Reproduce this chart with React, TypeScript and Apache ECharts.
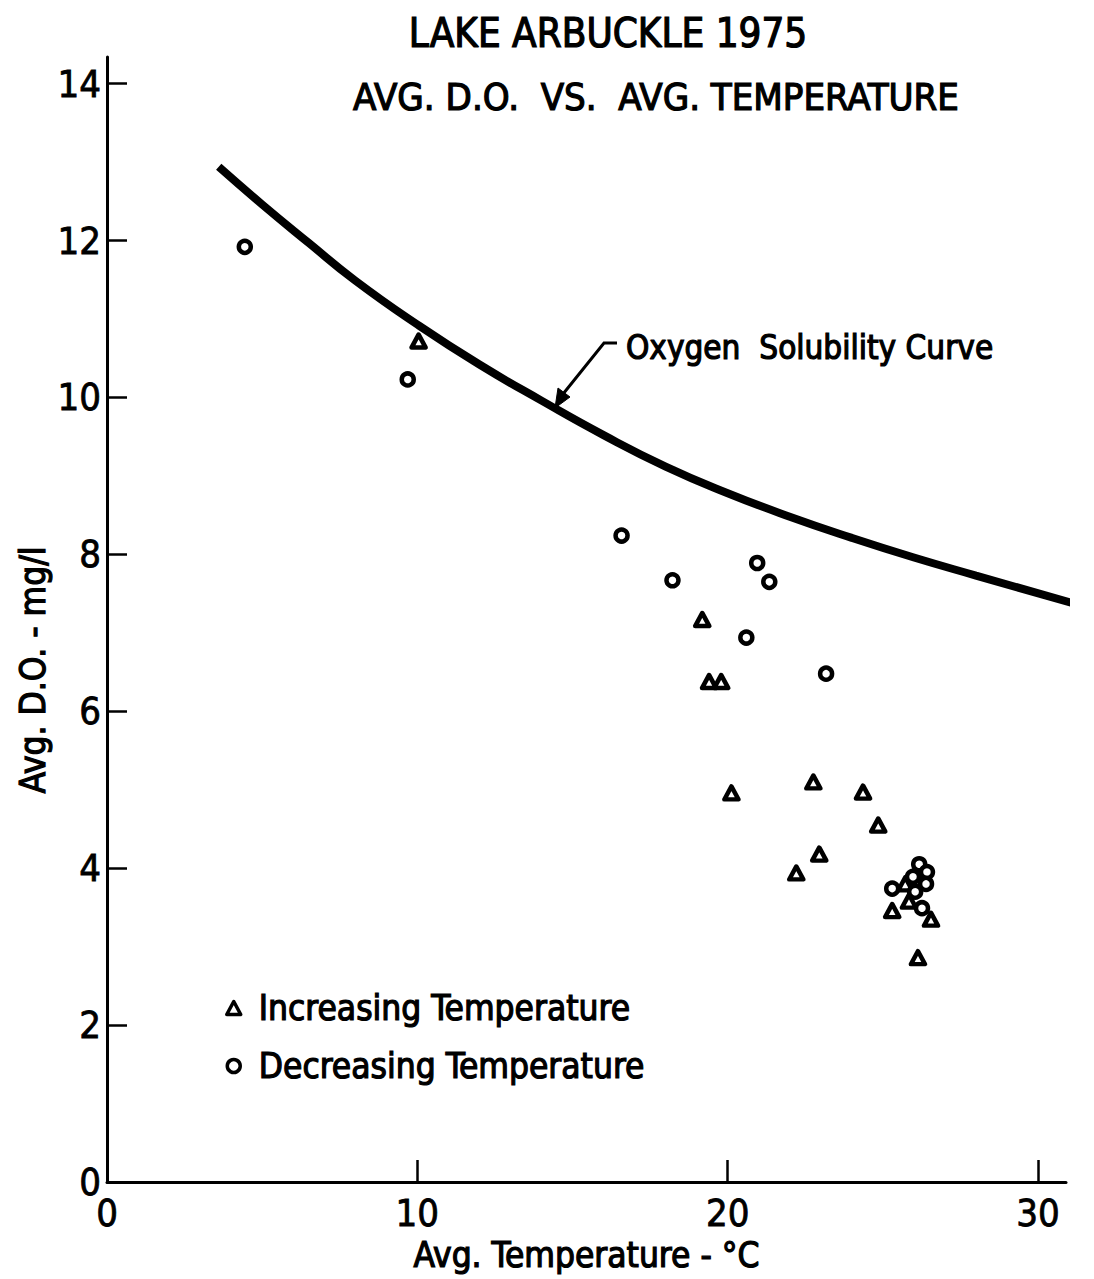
import React, { useEffect, useRef } from "react";
import * as echarts from "echarts";

// Lake Arbuckle 1975 — average dissolved oxygen against average temperature
const tempIncreasing = [10.04, 19.18, 19.4, 19.79, 20.12, 22.76, 24.36, 24.85, 22.95, 22.21, 25.3, 25.72, 25.84, 26.55, 26.13];
const doIncreasing = [10.72, 7.17, 6.38, 6.38, 4.96, 5.1, 4.97, 4.55, 4.18, 3.94, 3.46, 3.8, 3.58, 3.35, 2.86];

const tempDecreasing = [4.44, 9.69, 16.58, 18.22, 20.95, 21.34, 20.6, 23.17, 26.17, 26.42, 25.97, 26.39, 25.3, 26.04, 26.26];
const doDecreasing = [11.92, 10.23, 8.24, 7.67, 7.89, 7.65, 6.94, 6.48, 4.05, 3.95, 3.89, 3.8, 3.74, 3.7, 3.49];

// Oxygen solubility curve
const solubilityTemp = [3.6, 5, 6.5, 8, 10, 12, 14, 16, 18, 20, 22, 24, 26, 28, 31.1];
const solubilityDO = [12.94, 12.46, 11.97, 11.49, 10.93, 10.42, 9.96, 9.52, 9.12, 8.78, 8.48, 8.21, 7.96, 7.73, 7.38];

const xTicks = [0, 10, 20, 30];
const yTicks = [0, 2, 4, 6, 8, 10, 12, 14];

const FONT = "'DejaVu Sans Condensed', 'DejaVu Sans', sans-serif";

const zip = (a: number[], b: number[]) => a.map((v, i) => [v, b[i]]);

export default function App() {
  const ref = useRef<HTMLDivElement>(null);

  useEffect(() => {
    if (!ref.current) return;
    const chart = echarts.init(ref.current, undefined, { renderer: "svg" });

    // lettering: regular condensed face thickened with a thin outline
    const lettering = (size: number) => ({
      fontFamily: FONT,
      fontSize: size,
      fontWeight: "normal" as const,
      fill: "#000",
      stroke: "#000",
      lineWidth: 1.2,
    });

    chart.setOption({
      animation: false,
      backgroundColor: "#fff",
      grid: { left: 107, top: 57, width: 959, bottom: 97 },
      xAxis: {
        type: "value",
        min: 0,
        max: 30.9,
        splitLine: { show: false },
        axisLine: { show: true, lineStyle: { color: "#000", width: 3 } },
        axisTick: { show: true, inside: true, length: 22, lineStyle: { color: "#000", width: 2.5 }, customValues: xTicks.slice(1) },
        axisLabel: { customValues: xTicks, color: "#000", fontFamily: FONT, fontSize: 38, margin: 12, textBorderColor: "#000", textBorderWidth: 0.8 },
        name: "Avg. Temperature - °C",
        nameLocation: "middle",
        nameGap: 54,
        nameTextStyle: { color: "#000", fontFamily: FONT, fontSize: 35, textBorderColor: "#000", textBorderWidth: 1.2 },
      },
      yAxis: {
        type: "value",
        min: 0,
        max: 14.34,
        splitLine: { show: false },
        axisLine: { show: true, lineStyle: { color: "#000", width: 3 } },
        axisTick: { show: true, inside: true, length: 20, lineStyle: { color: "#000", width: 2.5 }, customValues: yTicks.slice(1) },
        axisLabel: { customValues: yTicks, color: "#000", fontFamily: FONT, fontSize: 38, margin: 6, textBorderColor: "#000", textBorderWidth: 0.8 },
      },
      legend: {
        orient: "vertical",
        left: 220,
        top: 983,
        itemGap: 18,
        itemWidth: 14,
        itemHeight: 13,
        itemStyle: { color: "#fff", borderColor: "#000", borderWidth: 3.5 },
        textStyle: {
          color: "#000",
          fontFamily: FONT,
          fontSize: 35,
          lineHeight: 40,
          textBorderColor: "#000",
          textBorderWidth: 1.2,
          padding: [0, 0, 0, 13],
        },
        data: [
          { name: "Increasing Temperature", icon: "triangle" },
          { name: "Decreasing Temperature", icon: "circle" },
        ],
      },
      series: [
        {
          name: "Oxygen Solubility Curve",
          type: "line",
          data: zip(solubilityTemp, solubilityDO),
          smooth: true,
          symbol: "none",
          clip: false,
          lineStyle: { color: "#000", width: 8 },
        },
        {
          name: "Increasing Temperature",
          type: "scatter",
          data: zip(tempIncreasing, doIncreasing),
          symbol: "triangle",
          symbolSize: [14, 13],
          itemStyle: { color: "#fff", borderColor: "#000", borderWidth: 4.5, borderJoin: "round", opacity: 1 },
          z: 3,
        },
        {
          name: "Decreasing Temperature",
          type: "scatter",
          data: zip(tempDecreasing, doDecreasing),
          symbol: "circle",
          symbolSize: 12,
          itemStyle: { color: "#fff", borderColor: "#000", borderWidth: 4.5, opacity: 1 },
          z: 4,
        },
      ],
      graphic: [
        { type: "text", x: 608, y: 33, style: { ...lettering(40), text: "LAKE ARBUCKLE 1975", align: "center", verticalAlign: "middle" } },
        { type: "text", x: 656, y: 97, style: { ...lettering(38), text: "AVG. D.O.  VS.  AVG. TEMPERATURE", align: "center", verticalAlign: "middle" } },
        { type: "text", x: 33, y: 670, rotation: Math.PI / 2, style: { ...lettering(35), text: "Avg. D.O. - mg/l", align: "center", verticalAlign: "middle" } },
        { type: "text", x: 626, y: 347, style: { ...lettering(33), text: "Oxygen  Solubility Curve", align: "left", verticalAlign: "middle" } },
        { type: "polyline", shape: { points: [[617, 343], [604, 343], [559, 399]] }, style: { stroke: "#000", lineWidth: 3, fill: null } },
        { type: "polygon", shape: { points: [[555, 408], [558, 388], [570, 397]] }, style: { fill: "#000", stroke: "#000", lineWidth: 1 } },
      ],
    });

    return () => chart.dispose();
  }, []);

  return <div ref={ref} style={{ position: "absolute", left: 0, top: 0, width: 1094, height: 1279 }} />;
}
